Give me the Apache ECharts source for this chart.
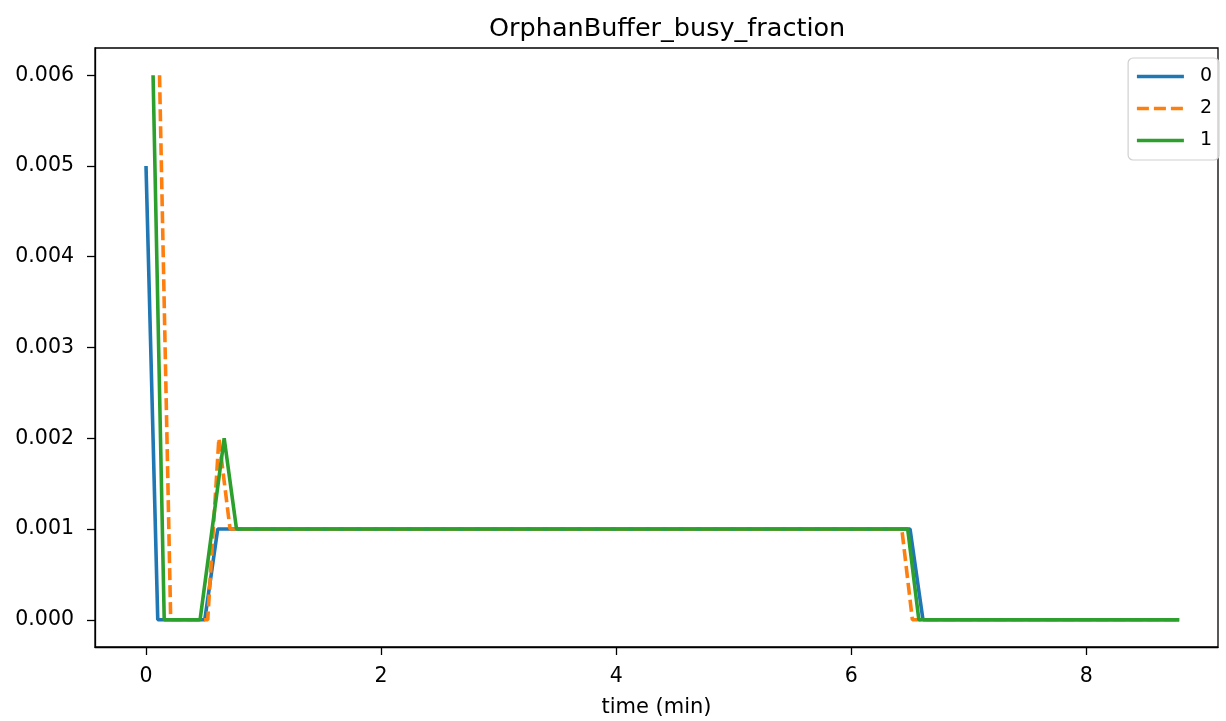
<!DOCTYPE html>
<html>
<head>
<meta charset="utf-8">
<script src="https://cdn.jsdelivr.net/npm/echarts@6/dist/echarts.min.js"></script>
<style>
html,body{margin:0;padding:0;background:#fff;}
#chart{width:1226px;height:721px;}
</style>
</head>
<body>
<div id="chart"></div>
<script>
// Series names in legend order
const seriesNames = ['0', '2', '1'];
// Vertices (time in minutes) and values for each series
const t0 = [0, 0.10, 0.50, 0.61, 6.50, 6.61, 8.79];
const v0 = [0.005, 0, 0, 0.001, 0.001, 0, 0];
const t2 = [0.115, 0.21, 0.525, 0.62, 0.715, 6.43, 6.52, 8.79];
const v2 = [0.006, 0, 0, 0.002, 0.001, 0.001, 0, 0];
const t1 = [0.06, 0.155, 0.46, 0.665, 0.77, 6.48, 6.575, 8.79];
const v1 = [0.006, 0, 0, 0.002, 0.001, 0.001, 0, 0];
const titleText = 'OrphanBuffer_busy_fraction';
const xAxisName = 'time (min)';

const zip = (t, v) => t.map((x, i) => [x, v[i]]);
const font = 'DejaVu Sans';

const chart = echarts.init(document.getElementById('chart'), null, {renderer: 'canvas'});
chart.setOption({
  animation: false,
  backgroundColor: '#fff',
  title: {
    text: titleText, left: 484, top: 11,
    textStyle: {fontFamily: font, fontSize: 25.5, fontWeight: 'normal', color: '#000'}
  },
  legend: {
    orient: 'vertical', right: 7, top: 58,
    padding: [9, 7, 10, 7],
    itemWidth: 47, itemHeight: 14, itemGap: 13,
    borderColor: '#d0d0d0', borderWidth: 1.2, borderRadius: 5,
    backgroundColor: 'rgba(255,255,255,0.8)',
    itemStyle: {color: 'transparent', borderWidth: 0},
    lineStyle: {width: 3.6},
    textStyle: {fontFamily: font, fontSize: 19, color: '#000', padding: [0, 0, 0, 11]},
    data: seriesNames
  },
  grid: {
    left: 95, right: 8, top: 48, bottom: 74, containLabel: false,
    outerBoundsMode: 'none',
    show: true, borderColor: '#000', borderWidth: 1.3, backgroundColor: 'transparent'
  },
  xAxis: {
    type: 'value', min: -0.434, max: 9.12,
    minInterval: 2, maxInterval: 2, splitNumber: 5,
    name: xAxisName, nameLocation: 'middle', nameGap: 50,
    nameTextStyle: {fontFamily: font, fontSize: 21, color: '#000'},
    axisLine: {show: true, onZero: false, lineStyle: {color: '#000', width: 1.3}},
    axisTick: {show: true, length: 8, lineStyle: {color: '#000', width: 1.3}},
    axisLabel: {show: true, margin: 19, showMinLabel: false, showMaxLabel: false,
      fontFamily: font, fontSize: 20.5, color: '#000'},
    splitLine: {show: false}
  },
  yAxis: {
    type: 'value', min: -0.0003, max: 0.0063,
    minInterval: 0.001, maxInterval: 0.001,
    axisLine: {show: true, onZero: false, lineStyle: {color: '#000', width: 1.3}},
    axisTick: {show: true, length: 8, lineStyle: {color: '#000', width: 1.3}},
    axisLabel: {show: true, margin: 21, showMinLabel: false, showMaxLabel: false,
      fontFamily: font, fontSize: 20.5, color: '#000',
      formatter: v => v.toFixed(3)},
    splitLine: {show: false}
  },
  series: [
    {name: seriesNames[0], type: 'line', symbol: 'none', showSymbol: false,
     data: zip(t0, v0), color: '#1f77b4',
     lineStyle: {color: '#1f77b4', width: 3.6}},
    {name: seriesNames[1], type: 'line', symbol: 'none', showSymbol: false,
     data: zip(t2, v2), color: '#ff7f0e',
     lineStyle: {color: '#ff7f0e', width: 3.6, type: [12, 5]}},
    {name: seriesNames[2], type: 'line', symbol: 'none', showSymbol: false,
     data: zip(t1, v1), color: '#2ca02c',
     lineStyle: {color: '#2ca02c', width: 3.6}}
  ]
});
</script>
</body>
</html>
